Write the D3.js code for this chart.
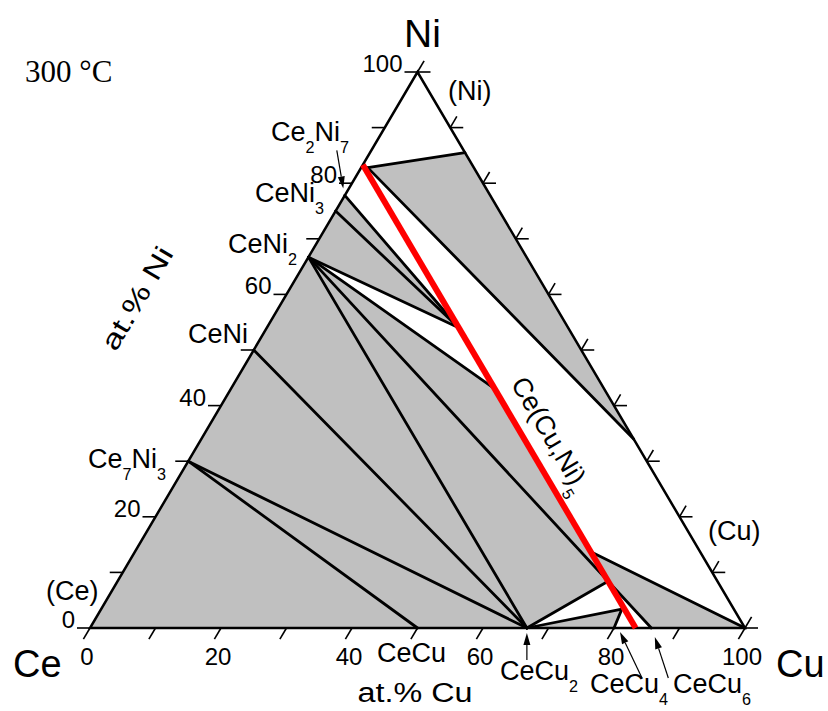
<!DOCTYPE html>
<html>
<head>
<meta charset="utf-8">
<script src="https://cdn.jsdelivr.net/npm/d3@7/dist/d3.min.js"></script>
<style>
    body { margin: 0; background: #fff; }
    svg text { font-family: Arial, "Liberation Sans", sans-serif; fill: #000; }
</style>
</head>
<body>
<div class="ternary__container"></div>
<script>
// phase points: [name, at.% Cu, at.% Ni]
const nodes = [
    ['Ce', 0, 0], ['Cu', 100, 0], ['Ni', 0, 100],
    ['Ce7Ni3', 0, 30], ['CeNi', 0, 50], ['CeNi2', 0, 66.7], ['CeNi3', 0, 75], ['Ce2Ni7', 0, 77.8], ['CeNi5', 0, 83.3],
    ['CeCu', 50, 0], ['CeCu2', 66.7, 0], ['CeCu4', 80, 0], ['CeCu5', 83.3, 0], ['CeCu6', 85.7, 0],
    ['A', 1, 82.8], ['B', 14.5, 85.5], ['C', 66, 34],
    ['D', 40.3, 43], ['E', 29.3, 54], ['F', 74.9, 8.4], ['G', 69.6, 13.7], ['H', 79.5, 3.4]
];

// three phase fields (grey)
const grayRegions = [
    ['Ce', 'Ce7Ni3', 'CeCu'],
    ['Ce7Ni3', 'CeCu', 'CeCu2'],
    ['Ce7Ni3', 'CeNi', 'CeCu2'],
    ['CeNi', 'CeNi2', 'CeCu2'],
    ['CeNi2', 'CeCu2', 'F'],
    ['CeNi2', 'F', 'D'],
    ['CeNi2', 'CeNi3', 'E'],
    ['CeNi3', 'Ce2Ni7', 'E'],
    ['A', 'B', 'C'],
    ['G', 'Cu', 'CeCu6', 'F'],
    ['CeCu2', 'H', 'CeCu4']
];

const tieLines = [
    ['Ce7Ni3', 'CeCu'], ['Ce7Ni3', 'CeCu2'], ['CeNi', 'CeCu2'], ['CeNi2', 'CeCu2'], ['CeNi2', 'CeCu6'],
    ['CeNi2', 'D'], ['CeNi2', 'E'], ['CeNi3', 'E'], ['Ce2Ni7', 'E'],
    ['A', 'B'], ['A', 'C'], ['CeCu2', 'F'], ['CeCu2', 'H'], ['H', 'CeCu4'], ['G', 'Cu']
];

const solidSolution = ['CeNi5', 'CeCu5'];

const tickValues = d3.range(0, 101, 10);
const tickLabels = [0, 20, 40, 60, 80, 100];

// [text, x, y]
const phaseLabels = [
    ['Ce2Ni7', 271, 141],
    ['CeNi3', 255, 202],
    ['CeNi2', 228, 253],
    ['CeNi', 188, 343],
    ['Ce7Ni3', 88, 468],
    ['(Ce)', 46, 600],
    ['(Ni)', 448, 100],
    ['(Cu)', 708, 540],
    ['CeCu', 377, 662],
    ['CeCu2', 500, 680],
    ['CeCu4', 590, 693],
    ['CeCu6', 673, 693]
];

// [target, tail dx, tail dy, tip dx, tip dy]
const arrows = [
    ['Ce2Ni7', -8, -45, -1.5, -7],
    ['CeCu2', 0, 32, 0, 5],
    ['CeCu4', 28, 50, 6, 4],
    ['CeCu6', 17, 50, 3.5, 9]
];

//scales
const width = 828;
const height = 711;
const xScale = d3.scaleLinear().domain([0, 100]).range([90, 745]);
const yScale = d3.scaleLinear().domain([0, 100]).range([628, 72]);

const nodeMap = new Map(nodes.map(d => [d[0], { cu: d[1], ni: d[2] }]));
const toXY = (cu, ni) => [xScale(cu + ni / 2), yScale(ni)];
const pt = name => { const n = nodeMap.get(name); return toXY(n.cu, n.ni); };

const svg = d3.select('.ternary__container')
    .append('svg')
    .attr('width', width)
    .attr('height', height);

// grey fields
svg.append('g')
    .selectAll('path')
    .data(grayRegions)
    .enter()
    .append('path')
    .attr('d', d => 'M' + d.map(pt).join('L') + 'Z')
    .style('fill', '#c0c0c0')
    .style('stroke', 'none');

// tie lines
svg.append('g')
    .selectAll('line')
    .data(tieLines)
    .enter()
    .append('line')
    .attr('x1', d => pt(d[0])[0])
    .attr('y1', d => pt(d[0])[1])
    .attr('x2', d => pt(d[1])[0])
    .attr('y2', d => pt(d[1])[1])
    .style('stroke', '#000')
    .style('stroke-width', 2.8)
    .style('stroke-linecap', 'round');

// frame
svg.append('path')
    .attr('d', 'M' + ['Ce', 'Cu', 'Ni'].map(pt).join('L') + 'Z')
    .style('fill', 'none')
    .style('stroke', '#000')
    .style('stroke-width', 2.5)
    .style('stroke-linejoin', 'miter');

// ticks
const tickLen = 13;
const slant = [327.5 / 645.3, -556 / 645.3]; // direction of constant Cu lines
const ticks = svg.append('g').style('stroke', '#000').style('stroke-width', 1.6);
tickValues.forEach(v => {
    const b = toXY(v, 0);
    ticks.append('line').attr('x1', b[0]).attr('y1', b[1])
        .attr('x2', b[0] - slant[0] * tickLen).attr('y2', b[1] - slant[1] * tickLen);
    const l = toXY(0, v);
    ticks.append('line').attr('x1', l[0]).attr('y1', l[1])
        .attr('x2', l[0] - tickLen).attr('y2', l[1]);
    const r = toXY(100 - v, v);
    ticks.append('line').attr('x1', r[0]).attr('y1', r[1])
        .attr('x2', r[0] + tickLen).attr('y2', r[1]);
    ticks.append('line').attr('x1', r[0]).attr('y1', r[1])
        .attr('x2', r[0] + slant[0] * tickLen).attr('y2', r[1] + slant[1] * tickLen);
});

// tick labels
const tickText = svg.append('g').style('font-size', '24px');
tickLabels.forEach(v => {
    tickText.append('text')
        .attr('x', xScale(v) - 3)
        .attr('y', yScale(0) + 37)
        .style('text-anchor', 'middle')
        .text(v);
    tickText.append('text')
        .attr('x', toXY(0, v)[0] - tickLen - 2)
        .attr('y', yScale(v))
        .style('text-anchor', 'end')
        .text(v);
});

// red line Ce(Cu,Ni)5
svg.append('line')
    .attr('x1', pt(solidSolution[0])[0])
    .attr('y1', pt(solidSolution[0])[1])
    .attr('x2', pt(solidSolution[1])[0])
    .attr('y2', pt(solidSolution[1])[1])
    .style('stroke', '#ff0000')
    .style('stroke-width', 6);

// formula labels with subscripts
const addFormula = (parent, str, size) => {
    const t = parent.append('text').style('font-size', size + 'px');
    let shift = 0;
    str.split(/(\d+)/).filter(s => s.length).forEach(part => {
        const isSub = /^\d+$/.test(part);
        const target = isSub ? 0.44 * size : 0;
        t.append('tspan')
            .attr('dy', target - shift)
            .style('font-size', (isSub ? 0.6 * size : size) + 'px')
            .text(part);
        shift = target;
    });
    return t;
};

phaseLabels.forEach(d => {
    addFormula(svg, d[0], 27).attr('x', d[1]).attr('y', d[2]);
});

// label along the red line
const p0 = pt(solidSolution[0]);
const p1 = pt(solidSolution[1]);
const ang = Math.atan2(p1[1] - p0[1], p1[0] - p0[0]);
const along = 0.49;
const offs = 16;
const lx = p0[0] + (p1[0] - p0[0]) * along + Math.sin(ang) * offs;
const ly = p0[1] + (p1[1] - p0[1]) * along - Math.cos(ang) * offs;
addFormula(svg.append('g').attr('transform', `translate(${lx},${ly}) rotate(${ang * 180 / Math.PI})`), 'Ce(Cu,Ni)5', 27);

// arrows
const arrowG = svg.append('g');
arrows.forEach(a => {
    const n = pt(a[0]);
    const tail = [n[0] + a[1], n[1] + a[2]];
    const tip = [n[0] + a[3], n[1] + a[4]];
    const dx = tip[0] - tail[0], dy = tip[1] - tail[1];
    const len = Math.hypot(dx, dy);
    const ux = dx / len, uy = dy / len;
    const hl = 12, hw = 3.5;
    const base = [tip[0] - ux * hl, tip[1] - uy * hl];
    arrowG.append('line')
        .attr('x1', tail[0]).attr('y1', tail[1])
        .attr('x2', base[0]).attr('y2', base[1])
        .style('stroke', '#000').style('stroke-width', 1.2);
    arrowG.append('path')
        .attr('d', `M${tip[0]},${tip[1]}L${base[0] - uy * hw},${base[1] + ux * hw}L${base[0] + uy * hw},${base[1] - ux * hw}Z`)
        .style('fill', '#000');
});

// corner labels
svg.append('text').attr('x', xScale(50) + 5).attr('y', 47).style('font-size', '39px').style('text-anchor', 'middle').text('Ni');
svg.append('text').attr('x', 13).attr('y', 677).style('font-size', '38px').text('Ce');
svg.append('text').attr('x', 776).attr('y', 677).style('font-size', '38px').text('Cu');

// axis titles
svg.append('text')
    .attr('x', 415).attr('y', 702)
    .style('font-size', '27px')
    .style('text-anchor', 'middle')
    .attr('textLength', 115)
    .attr('lengthAdjust', 'spacingAndGlyphs')
    .text('at.% Cu');

svg.append('text')
    .attr('transform', 'translate(145,303) rotate(-59.5)')
    .style('font-size', '27px')
    .style('text-anchor', 'middle')
    .attr('textLength', 115)
    .attr('lengthAdjust', 'spacingAndGlyphs')
    .text('at.% Ni');

// temperature
svg.append('text')
    .attr('x', 25).attr('y', 82)
    .style('font-family', '"Liberation Serif", "Times New Roman", serif')
    .style('font-size', '31px')
    .text('300 °C');
</script>
</body>
</html>
